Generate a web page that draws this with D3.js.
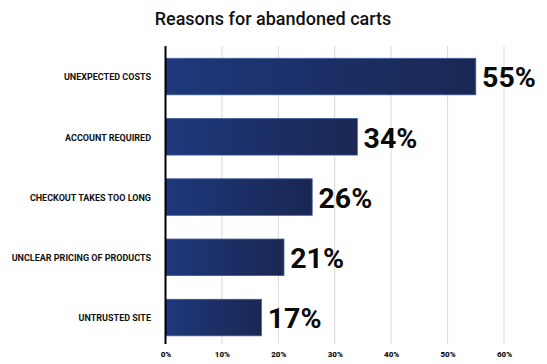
<!DOCTYPE html>
<html><head><meta charset="utf-8">
<script src="https://cdn.jsdelivr.net/npm/d3@7"></script>
<style>html,body{margin:0;padding:0;background:#fff;}svg{display:block;font-family:Roboto,"Noto Sans",sans-serif;}</style>
</head><body>
<svg id="c" width="547" height="364"></svg>
<script>
const categories = ["UNEXPECTED COSTS","ACCOUNT REQUIRED","CHECKOUT TAKES TOO LONG","UNCLEAR PRICING OF PRODUCTS","UNTRUSTED SITE"];
const values = [55,34,26,21,17];
const tickValues = [0,10,20,30,40,50,60];
const title = "Reasons for abandoned carts";

const svg = d3.select("#c");
const m = {left:165.5, right:504, top:46, bottom:344};
const x = d3.scaleLinear().domain([0,60]).range([m.left, m.right]);
const y = d3.scaleBand().domain(categories).range([m.top, m.bottom])
  .paddingInner(0.394).paddingOuter(0.17).align(0.6);

const defs = svg.append("defs");
const g = defs.append("linearGradient").attr("id","bg").attr("x1","0").attr("x2","1").attr("y1","0").attr("y2","0");
g.append("stop").attr("offset","0").attr("stop-color","#1d387b");
g.append("stop").attr("offset","1").attr("stop-color","#1a2753");

svg.append("text").attr("x",273).attr("y",25).attr("text-anchor","middle")
  .attr("font-size",18).attr("font-weight",500).attr("fill","#111").text(title);

// gridlines
svg.append("g").selectAll("line").data(tickValues.filter(d=>d>0)).join("line")
  .attr("x1",d=>x(d)).attr("x2",d=>x(d)).attr("y1",m.top).attr("y2",m.bottom)
  .attr("stroke","#d9d9d9").attr("stroke-width",1);

// x axis labels
const xAxis = d3.axisBottom(x).tickValues(tickValues).tickFormat(d=>d+"%").tickSize(0).tickPadding(0);
const ax = svg.append("g").attr("transform",`translate(0,351.4)`).call(xAxis);
ax.select(".domain").remove();
ax.selectAll("text").attr("font-size",8).attr("font-weight",900).attr("fill","#111").attr("font-family","Roboto");

// bars
svg.append("g").selectAll("rect").data(values).join("rect")
  .attr("x",x(0)).attr("y",(d,i)=>y(categories[i]))
  .attr("width",d=>x(d)-x(0)).attr("height",y.bandwidth())
  .attr("fill","url(#bg)").attr("stroke","#3d5a98").attr("stroke-width",0.8);

// value labels
svg.append("g").selectAll("text").data(values).join("text")
  .attr("x",d=>x(d)+6.3).attr("y",(d,i)=>y(categories[i])+y.bandwidth()/2+10.8)
  .attr("font-size",28.5).attr("font-weight",700).attr("fill","#0a0a0a").text(d=>d+"%");

// category labels
svg.append("g").selectAll("text").data(categories).join("text")
  .attr("x",151).attr("y",d=>y(d)+y.bandwidth()/2+3.8)
  .attr("text-anchor","end").attr("font-size",9).attr("font-weight",700).attr("fill","#111")
  .text(d=>d);

// y axis line
svg.append("line").attr("x1",m.left).attr("x2",m.left).attr("y1",m.top).attr("y2",m.bottom)
  .attr("stroke","#000").attr("stroke-width",2);
</script>
</body></html>
